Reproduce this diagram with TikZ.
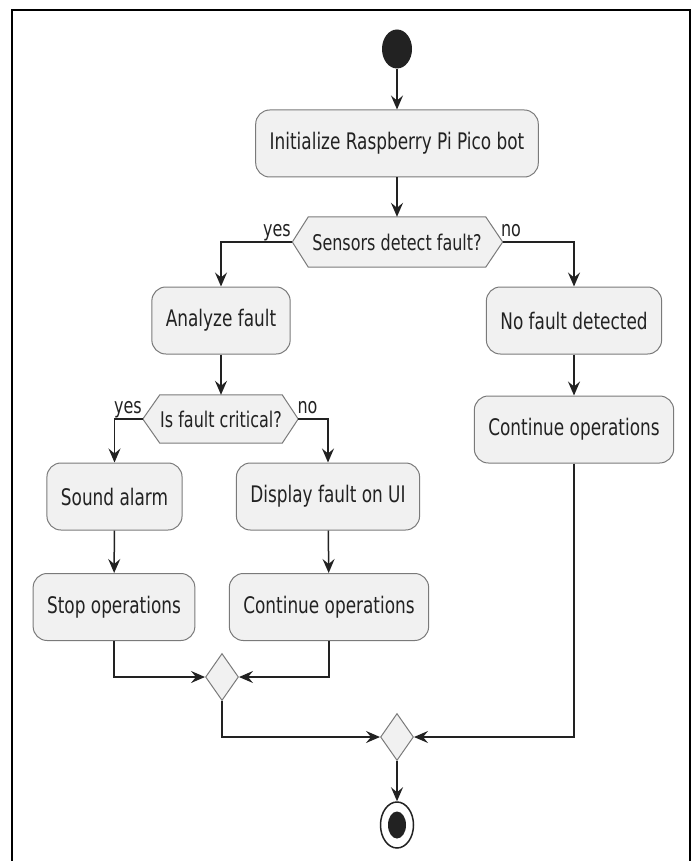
\documentclass[tikz,border=0pt]{standalone}
\usepackage{fontspec}
\setmainfont{DejaVu Sans}
\usetikzlibrary{shapes.geometric,arrows.meta,backgrounds,calc}
\definecolor{boxfill}{HTML}{F1F1F1}
\definecolor{boxline}{HTML}{7A7A7A}
\definecolor{ink}{HTML}{222222}
\newcommand{\tx}[1]{\scalebox{1}[1.35]{#1}}
\begin{document}
\begin{tikzpicture}[x=1pt,y=-1pt,
 act/.style={draw=boxline, fill=boxfill, line width=1, rounded corners=14, minimum height=67, inner xsep=14, inner ysep=0, text=ink, font=\fontsize{16.9}{20}\selectfont},
 dec/.style={minimum height=50, inner sep=0, text=ink, font=\fontsize{16}{19}\selectfont},
 hexshape/.style={draw=boxline, fill=boxfill, line width=1},
 merge/.style={diamond, draw=boxline, fill=boxfill, line width=1, minimum width=33, minimum height=47, inner sep=0},
 arr/.style={draw=ink, line width=1.5, -{Stealth[length=14,width=12,inset=5]}},
 lbl/.style={text=ink, font=\fontsize{16}{19}\selectfont, inner sep=0, anchor=base},
]
\useasboundingbox (0,0) rectangle (692,861);
\draw[line width=2.5, black] (12,861) -- (12,10) -- (690,10) -- (690,861);

\node[ellipse, fill=ink, minimum width=30, minimum height=39, inner sep=0] (start) at (397,49) {};
\node[act] (init) at (397,143.5) {\tx{Initialize Raspberry Pi Pico bot}};
\node[dec, minimum width=177] (d1) at (397,242) {\tx{Sensors detect fault?}};
\coordinate (d1l) at ($(d1.west)+(-16,0)$);
\coordinate (d1r) at ($(d1.east)+(17,0)$);

\node[act] (an) at (221,320.5) {\tx{Analyze fault}};
\node[act] (nf) at (574,320.5) {\tx{No fault detected}};
\node[act] (co1) at (574,429.5) {\tx{Continue operations}};
\node[dec, minimum width=122, minimum height=48] (d2) at (221,419) {\tx{Is fault critical?}};
\coordinate (d2l) at ($(d2.west)+(-17,0)$);
\coordinate (d2r) at ($(d2.east)+(16,0)$);

\node[act] (sa) at (114.5,496.5) {\tx{Sound alarm}};
\node[act] (df) at (328,496.5) {\tx{Display fault on UI}};
\node[act] (so) at (114,607) {\tx{Stop operations}};
\node[act] (co2) at (329,607) {\tx{Continue operations}};
\node[merge] (m1) at (222,677) {};
\node[merge] (m2) at (397,737) {};
\node[ellipse, draw=ink, fill=white, line width=1.5, minimum width=33, minimum height=46, inner sep=0] (end) at (397,825) {};
\node[ellipse, fill=ink, minimum width=18, minimum height=27, inner sep=0] (endin) at (end) {};

\begin{scope}[on background layer]
\draw[hexshape] (d1l) -- (d1.north west) -- (d1.north east) -- (d1r) -- (d1.south east) -- (d1.south west) -- cycle;
\draw[hexshape] (d2l) -- (d2.north west) -- (d2.north east) -- (d2r) -- (d2.south east) -- (d2.south west) -- cycle;
\end{scope}

\node[lbl] (y1) at (277,236.5) {\tx{yes}};
\node[lbl] (n1) at (511,236.5) {\tx{no}};
\node[lbl] (y2) at (128,413) {\tx{yes}};
\node[lbl] (n2) at (307.5,413) {\tx{no}};

\draw[arr] (start) -- (init);
\draw[arr] (init) -- (d1);
\draw[arr] (d1l) -| (an.north);
\draw[arr] (d1r) -| (nf.north);
\draw[arr] (an) -- (d2);
\draw[arr] (nf) -- (co1);
\draw[arr] (d2l) -| (sa.north);
\draw[arr] (d2r) -| (df.north);
\draw[arr] (sa) -- (so);
\draw[arr] (df) -- (co2);
\draw[arr] (so.south) |- (m1.west);
\draw[arr] (co2.south) |- (m1.east);
\draw[arr] (m1.south) |- (m2.west);
\draw[arr] (co1.south) |- (m2.east);
\draw[arr] (m2) -- (end);
\end{tikzpicture}
\end{document}
